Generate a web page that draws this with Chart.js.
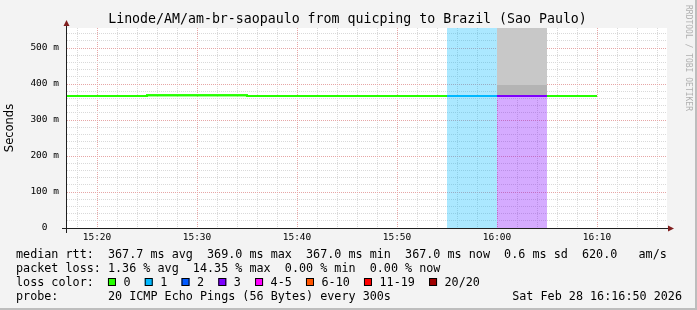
<!DOCTYPE html>
<html>
<head>
<meta charset="utf-8">
<title>Linode/AM/am-br-saopaulo from quicping to Brazil (Sao Paulo)</title>
<script src="https://cdn.jsdelivr.net/npm/chart.js@4.4.1/dist/chart.umd.min.js"></script>
<style>
    html, body { margin: 0; padding: 0; background: #f3f3f3; }
    canvas { display: block; }
</style>
</head>
<body>
<canvas id="smokeChart" width="697" height="310"></canvas>
<script>
// 5 minute bins, labelled by the time each bin ends
const binEnds = ['15:20', '15:25', '15:30', '15:35', '15:40', '15:45', '15:50', '15:55', '16:00', '16:05', '16:10'];
const medianRtt = [367, 367, 369, 369, 367, 367, 367, 367, 367, 367, 367];   // ms
const lostPings = [0, 0, 0, 0, 0, 0, 0, 0, 1, 3, 0];                         // out of 20
// smoke (spread of the single pings), only where it shows
const smokeLow  = [null, null, null, null, null, null, null, null, null, 369, null];
const smokeHigh = [null, null, null, null, null, null, null, null, null, 397, null];

const lossLabels = ['0', '1', '2', '3', '4-5', '6-10', '11-19', '20/20'];
const lossColors = ['#26ff00', '#00b8ff', '#0059ff', '#7e00ff', '#ff00ff', '#ff5500', '#ff0000', '#a00000'];

const viewStart = '15:17';
const viewEnd = '16:17';
const Y_MAX = 555.6;

const titleText = 'Linode/AM/am-br-saopaulo from quicping to Brazil (Sao Paulo)';
const rttRow = 'median rtt:  367.7 ms avg  369.0 ms max  367.0 ms min  367.0 ms now  0.6 ms sd  620.0   am/s';
const lossRow = 'packet loss: 1.36 % avg  14.35 % max  0.00 % min  0.00 % now';
const probeRow = 'probe:       20 ICMP Echo Pings (56 Bytes) every 300s';
const stampText = 'Sat Feb 28 16:16:50 2026';

const BIN_MIN = 5;
const MONO = '"DejaVu Sans Mono", monospace';
const GRID = '#d9d9d9';
const MGRID = '#e6a6a6';

function toMin(t) {
    const [h, m] = t.split(':').map(Number);
    return (h - 15) * 60 + m;
}

function fmtMin(v) {
    const h = 15 + Math.floor(v / 60);
    const m = v % 60;
    return h + ':' + String(m).padStart(2, '0');
}

function lossIndex(n) {
    if (n <= 3) return n;
    if (n <= 5) return 4;
    if (n <= 10) return 5;
    if (n <= 19) return 6;
    return 7;
}

function fade(hex, a) {
    const r = parseInt(hex.slice(1, 3), 16);
    const g = parseInt(hex.slice(3, 5), 16);
    const b = parseInt(hex.slice(5, 7), 16);
    return `rgba(${r},${g},${b},${a})`;
}

// each bin becomes a flat step from its start to its end
function binPoints(values) {
    const pts = [];
    binEnds.forEach((t, i) => {
        const end = toMin(t);
        pts.push({ x: end - BIN_MIN, y: values[i] }, { x: end, y: values[i] });
    });
    return pts;
}

function binSpan(i, y) {
    const end = toMin(binEnds[i]);
    return [{ x: end - BIN_MIN, y: y }, { x: end, y: y }];
}

const datasets = [];

// median line, coloured by loss
datasets.push({
    label: 'median rtt',
    data: binPoints(medianRtt),
    borderWidth: 2,
    borderColor: lossColors[0],
    borderCapStyle: 'butt',
    borderJoinStyle: 'miter',
    pointRadius: 0,
    fill: false,
    order: 1,
    segment: {
        borderColor: ctx => lossColors[lossIndex(lostPings[Math.floor(ctx.p0DataIndex / 2)])],
    },
});
const MEDIAN_INDEX = 0;

// loss background and smoke
binEnds.forEach((t, i) => {
    if (lostPings[i] > 0) {
        datasets.push({
            data: binSpan(i, 0),
            fill: 'end',
            backgroundColor: fade(lossColors[lossIndex(lostPings[i])], 0.33),
            borderWidth: 0,
            pointRadius: 0,
            order: 4,
        });
    }
    if (smokeLow[i] !== null) {
        datasets.push({
            data: binSpan(i, smokeLow[i]),
            fill: 'end',
            backgroundColor: '#b4b4b4',
            borderWidth: 0,
            pointRadius: 0,
            order: 3,
        });
        datasets.push({
            data: binSpan(i, smokeHigh[i]),
            fill: 'end',
            backgroundColor: '#c8c8c8',
            borderWidth: 0,
            pointRadius: 0,
            order: 2,
        });
    }
});

/**
 * Frame, background, texts, axes and arrows in rrdtool style
 */
const rrdPlugin = {
    id: 'rrdStyle',
    beforeDraw(chart) {
        const { ctx, chartArea: a, width, height } = chart;
        ctx.save();
        ctx.fillStyle = '#f3f3f3';
        ctx.fillRect(0, 0, width, height);
        ctx.fillStyle = '#bdbdbd';
        ctx.fillRect(width - 2, 0, 2, height);
        ctx.fillRect(0, height - 2, width, 2);
        ctx.fillStyle = '#ffffff';
        ctx.fillRect(a.left, a.top, a.right - a.left, a.bottom - a.top);
        ctx.restore();
    },
    afterDraw(chart) {
        const { ctx, chartArea: a, width } = chart;

        // median line again, above the grid
        ctx.save();
        ctx.beginPath();
        ctx.rect(a.left, a.top, a.right - a.left, a.bottom - a.top);
        ctx.clip();
        chart.getDatasetMeta(MEDIAN_INDEX).controller.draw();
        ctx.restore();

        ctx.save();
        // axes
        ctx.strokeStyle = '#1f1f1f';
        ctx.lineWidth = 1;
        ctx.beginPath();
        ctx.moveTo(a.left - 0.5, a.bottom + 5);
        ctx.lineTo(a.left - 0.5, a.top - 6);
        ctx.moveTo(a.left - 5, a.bottom + 0.5);
        ctx.lineTo(a.right + 1, a.bottom + 0.5);
        ctx.stroke();

        // arrows
        ctx.fillStyle = '#801f1f';
        ctx.beginPath();
        ctx.moveTo(a.left - 0.5, a.top - 8);
        ctx.lineTo(a.left - 3.5, a.top - 2);
        ctx.lineTo(a.left + 2.5, a.top - 2);
        ctx.closePath();
        ctx.fill();
        ctx.beginPath();
        ctx.moveTo(a.right + 7, a.bottom + 0.5);
        ctx.lineTo(a.right + 1, a.bottom - 2.5);
        ctx.lineTo(a.right + 1, a.bottom + 3.5);
        ctx.closePath();
        ctx.fill();

        // title
        ctx.fillStyle = '#000';
        ctx.textBaseline = 'middle';
        ctx.textAlign = 'center';
        ctx.font = '13.25px ' + MONO;
        ctx.fillText(titleText, 347.5, 19.5);

        // vertical unit label
        ctx.save();
        ctx.translate(10.5, (a.top + a.bottom) / 2);
        ctx.rotate(-Math.PI / 2);
        ctx.font = '11.5px "DejaVu Sans", sans-serif';
        ctx.fillText('Seconds', 0, 0);
        ctx.restore();

        // watermark
        ctx.save();
        ctx.translate(688, 5);
        ctx.rotate(Math.PI / 2);
        ctx.textAlign = 'left';
        ctx.fillStyle = '#b0b0b0';
        ctx.font = '8px ' + MONO;
        ctx.fillText('RRDTOOL / TOBI OETIKER', 0, 0);
        ctx.restore();

        // legend
        ctx.textAlign = 'left';
        ctx.font = '11.75px ' + MONO;
        const cw = ctx.measureText('0').width;
        ctx.fillText(rttRow, 16, 254.5);
        ctx.fillText(lossRow, 16, 268.5);
        ctx.fillText('loss color:', 16, 282.5);
        let bx = 16 + 13 * cw;
        lossLabels.forEach((lab, i) => {
            ctx.fillStyle = lossColors[i];
            ctx.fillRect(bx, 278, 8, 8);
            ctx.strokeStyle = '#000';
            ctx.strokeRect(bx + 0.5, 278.5, 7, 7);
            ctx.fillStyle = '#000';
            const lx = bx + 15.5;
            ctx.fillText(lab, lx, 282.5);
            bx = lx + lab.length * cw + 14.2;
        });
        ctx.fillText(probeRow, 16, 296.5);
        ctx.textAlign = 'right';
        ctx.fillText(stampText, 682, 296.5);
        ctx.restore();
    },
};

new Chart(document.getElementById('smokeChart'), {
    type: 'line',
    data: { datasets: datasets },
    plugins: [rrdPlugin],
    options: {
        responsive: false,
        animation: false,
        devicePixelRatio: 1,
        layout: { padding: { left: 0, right: 30, top: 28, bottom: 0 } },
        plugins: {
            legend: { display: false },
            title: { display: false },
            tooltip: { enabled: false },
        },
        scales: {
            x: {
                type: 'linear',
                min: toMin(viewStart),
                max: toMin(viewEnd),
                z: 1,
                afterBuildTicks: s => {
                    const ticks = [];
                    for (let v = Math.ceil(s.min / 2) * 2; v < s.max; v += 2) {
                        if (v > s.min) ticks.push({ value: v });
                    }
                    s.ticks = ticks;
                },
                afterFit: s => { s.height = 82; },
                grid: {
                    color: c => (c.tick && c.tick.value % 10 === 0 ? MGRID : GRID),
                    drawTicks: false,
                    lineWidth: 1,
                },
                border: { display: false, dash: [1, 1] },
                ticks: {
                    autoSkip: false,
                    maxRotation: 0,
                    padding: 4,
                    color: '#000',
                    font: { family: MONO, size: 9.5 },
                    callback: v => (v % 10 === 0 ? fmtMin(v) : ''),
                },
            },
            y: {
                type: 'linear',
                min: 0,
                max: Y_MAX,
                z: 1,
                afterBuildTicks: s => {
                    const ticks = [];
                    for (let v = 0; v <= s.max; v += 20) ticks.push({ value: v });
                    s.ticks = ticks;
                },
                afterFit: s => { s.width = 67; },
                grid: {
                    color: c => (c.tick && c.tick.value % 100 === 0 ? MGRID : GRID),
                    drawTicks: false,
                    lineWidth: 1,
                },
                border: { display: false, dash: [1, 1] },
                ticks: {
                    autoSkip: false,
                    padding: 8,
                    color: '#000',
                    font: { family: MONO, size: 9.5 },
                    callback: v => (v % 100 !== 0 ? '' : (v === 0 ? '0  ' : v + ' m')),
                },
            },
        },
    },
});
</script>
</body>
</html>
